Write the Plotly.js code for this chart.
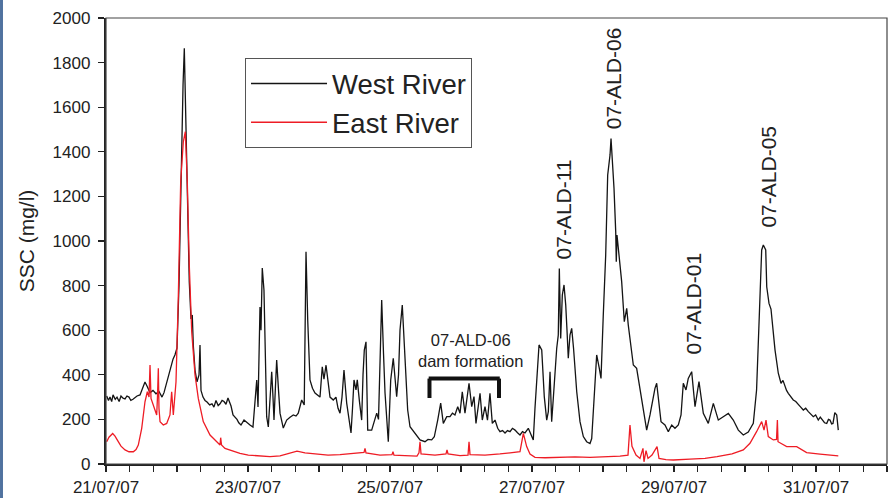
<!DOCTYPE html>
<html><head><meta charset="utf-8">
<script src="https://cdn.plot.ly/plotly-3.0.1.min.js"></script>
<style>html,body{margin:0;padding:0;background:#fff;} #chart{width:890px;height:498px;}</style>
</head><body><div id="chart"></div>
<script>
// Time in days since 21/07/07 00:00
const startDate = Date.UTC(2007, 6, 21);
const dayMs = 86400000;

const westDays = [0.010,0.035,0.056,0.080,0.099,0.130,0.155,0.185,0.211,0.240,0.268,0.295,0.324,0.350,0.380,0.410,0.437,0.479,0.521,0.549,0.577,0.620,0.662,0.704,0.746,0.789,0.817,0.855,0.901,0.944,0.972,1.000,1.028,1.056,1.085,1.103,1.127,1.155,1.173,1.197,1.215,1.230,1.254,1.282,1.310,1.324,1.338,1.366,1.395,1.423,1.460,1.493,1.520,1.549,1.580,1.606,1.635,1.662,1.690,1.718,1.761,1.789,1.845,1.870,1.901,1.944,1.986,2.028,2.070,2.099,2.123,2.141,2.155,2.169,2.183,2.201,2.225,2.239,2.263,2.286,2.310,2.334,2.352,2.366,2.387,2.404,2.430,2.451,2.497,2.545,2.592,2.638,2.676,2.708,2.756,2.792,2.817,2.841,2.873,2.908,2.944,2.986,3.014,3.046,3.070,3.099,3.127,3.155,3.201,3.239,3.268,3.296,3.324,3.352,3.390,3.423,3.451,3.472,3.493,3.521,3.539,3.570,3.601,3.620,3.638,3.662,3.676,3.686,3.742,3.775,3.813,3.838,3.859,3.883,3.908,3.930,3.976,4.010,4.046,4.070,4.094,4.120,4.141,4.173,4.197,4.211,4.249,4.282,4.352,4.423,4.493,4.535,4.587,4.624,4.672,4.714,4.751,4.799,4.845,4.880,4.915,4.954,4.986,5.018,5.056,5.113,5.151,5.183,5.211,5.268,5.300,5.338,5.373,5.408,5.441,5.479,5.517,5.549,5.585,5.620,5.655,5.690,5.725,5.761,5.796,5.831,5.866,5.901,5.948,5.996,6.018,6.042,6.066,6.099,6.137,6.173,6.207,6.230,6.254,6.277,6.300,6.324,6.348,6.370,6.385,6.404,6.427,6.451,6.475,6.493,6.511,6.535,6.559,6.585,6.630,6.676,6.723,6.770,6.817,6.841,6.863,6.911,6.948,6.972,7.004,7.038,7.066,7.099,7.113,7.137,7.155,7.179,7.187,7.197,7.225,7.263,7.300,7.334,7.356,7.404,7.427,7.474,7.521,7.554,7.592,7.615,7.662,7.694,7.732,7.756,7.789,7.817,7.873,7.920,7.968,8.014,8.061,8.099,8.131,8.169,8.201,8.249,8.296,8.352,8.413,8.483,8.554,8.624,8.694,8.765,8.835,8.906,8.976,9.046,9.117,9.163,9.201,9.235,9.258,9.292,9.306,9.338,9.366,9.399,9.423,9.469,9.507,9.535,9.563,9.585,9.610,9.645,9.680,9.715,9.751,9.785,9.821,9.855,9.892,9.925,9.962,9.995,10.032,10.060,10.092,10.120,10.151,10.175,10.197,10.220,10.239,10.265,10.292,10.314];
const westSSC = [305,285,300,280,310,290,300,280,305,295,292,305,300,285,290,300,305,310,340,368,350,320,330,315,325,300,320,368,420,470,490,520,800,1300,1700,1864,1500,1000,816,650,668,530,420,368,400,534,330,300,285,278,265,270,255,285,262,270,285,280,268,296,260,220,200,185,175,197,184,175,166,300,377,256,550,704,600,879,780,571,212,166,300,414,300,197,350,466,330,228,161,197,210,220,215,228,287,265,952,646,377,340,318,305,300,436,380,443,360,300,287,300,250,228,300,421,273,200,139,250,377,332,377,280,197,400,511,548,350,152,152,190,228,200,450,735,500,318,100,377,474,400,302,400,601,713,560,466,242,167,139,108,100,110,108,122,197,273,182,212,212,228,220,257,228,324,228,362,257,302,182,317,197,257,197,317,182,197,160,145,150,139,150,145,160,152,140,130,145,139,160,122,108,250,392,534,511,302,197,235,414,190,294,429,519,578,877,563,758,803,713,600,474,578,608,519,324,190,123,100,92,114,250,489,429,384,668,937,1296,1386,1460,1341,1236,1042,907,1027,937,818,638,698,623,489,444,429,339,279,190,152,220,279,339,362,279,190,175,145,175,160,175,220,362,332,384,414,257,369,227,182,272,197,212,227,197,152,130,143,182,332,661,960,982,960,795,720,695,578,511,407,362,375,347,330,317,300,287,280,265,255,242,250,235,225,212,220,197,210,197,185,182,200,197,180,182,230,220,152];

const eastDays = [0.010,0.042,0.094,0.127,0.173,0.211,0.268,0.324,0.385,0.423,0.455,0.479,0.503,0.549,0.582,0.606,0.620,0.634,0.676,0.714,0.725,0.737,0.746,0.761,0.807,0.855,0.901,0.925,0.948,0.986,1.018,1.052,1.089,1.117,1.145,1.173,1.207,1.254,1.300,1.370,1.465,1.582,1.606,1.615,1.627,1.676,1.746,1.887,2.004,2.169,2.310,2.451,2.634,2.690,2.803,2.944,3.127,3.296,3.437,3.577,3.634,3.648,3.662,3.859,4.028,4.042,4.056,4.211,4.380,4.408,4.423,4.437,4.634,4.789,4.803,4.817,4.986,5.099,5.113,5.127,5.338,5.549,5.690,5.831,5.878,5.925,5.972,6.042,6.183,6.394,6.606,6.817,7.028,7.239,7.352,7.380,7.408,7.465,7.521,7.563,7.577,7.606,7.634,7.690,7.761,7.789,7.887,7.990,8.225,8.437,8.606,8.817,8.976,9.070,9.163,9.235,9.268,9.296,9.328,9.399,9.444,9.456,9.465,9.587,9.728,9.868,10.056,10.314];
const eastSSC = [100,120,137,125,100,80,63,55,55,65,85,120,160,279,324,300,444,294,250,220,300,429,250,190,175,182,220,324,220,369,743,1266,1445,1490,1266,892,593,399,294,190,130,93,85,118,85,70,63,48,40,36,33,36,55,58,50,45,40,42,45,50,52,70,50,40,42,55,40,38,35,50,100,45,40,45,63,45,38,40,100,42,40,45,50,55,137,78,45,30,28,30,32,30,32,35,40,175,79,40,25,70,10,60,25,40,78,25,20,18,22,25,33,45,63,93,145,190,152,197,123,108,110,197,100,78,78,51,44,36];

const seriesNames = ['West River', 'East River'];
const tickFormat = '%d/%m/%y';

const toTime = d => startDate + d * dayMs;

const font = 'Liberation Sans, Arial, Helvetica, sans-serif';

const traces = [
  {x: westDays.map(toTime), y: westSSC, name: seriesNames[0], type: 'scatter', mode: 'lines',
   line: {color: '#141414', width: 1.3}},
  {x: eastDays.map(toTime), y: eastSSC, name: seriesNames[1], type: 'scatter', mode: 'lines',
   line: {color: '#ee1c25', width: 1.3}}
];

const t = d => toTime(d);

const layout = {
  width: 890, height: 498,
  margin: {l: 106, r: 3, t: 18, b: 34},
  paper_bgcolor: '#fff', plot_bgcolor: '#fff',
  font: {family: font, color: '#222'},
  showlegend: true,
  legend: {x: 0.178, y: 0.91, xanchor: 'left', yanchor: 'top',
           bordercolor: '#555', borderwidth: 1, bgcolor: '#fff',
           font: {size: 27.5, family: font, color: '#222'}, itemwidth: 76},
  xaxis: {
    type: 'date', range: ['2007-07-21', '2007-08-01'],
    tick0: '2007-07-21', dtick: 2 * dayMs, tickformat: tickFormat,
    ticks: 'outside', ticklen: 6, tickwidth: 1.3, tickcolor: '#222',
    showgrid: false, zeroline: false,
    showline: true, linewidth: 2.2, linecolor: '#222',
    tickfont: {size: 17, family: font, color: '#222'},
    minor: {dtick: dayMs / 3, ticks: 'outside', ticklen: 6, tickwidth: 1.3, tickcolor: '#222', showgrid: false}
  },
  yaxis: {
    range: [0, 2000], dtick: 200,
    ticks: 'outside', ticklen: 6, tickwidth: 1.3, tickcolor: '#222',
    showgrid: false, zeroline: false,
    showline: true, linewidth: 2.2, linecolor: '#222',
    tickfont: {size: 17, family: font, color: '#222'},
    ticklabelstandoff: 4,
    title: {text: 'SSC (mg/l)', font: {size: 21, family: font, color: '#222'}, standoff: 12}
  },
  shapes: [
    {type: 'rect', xref: 'paper', yref: 'paper', x0: 0, x1: 1, y0: 0, y1: 1,
     line: {color: '#444', width: 1.2}},
    {type: 'rect', xref: 'paper', yref: 'paper', x0: -0.1357, x1: -0.1319, y0: -0.08, y1: 1.05,
     line: {width: 0}, fillcolor: '#50729f'},
    {type: 'line', x0: t(4.556), x1: t(4.556), y0: 296, y1: 383, line: {color: '#111', width: 4}},
    {type: 'line', x0: t(4.545), x1: t(5.546), y0: 383, y1: 383, line: {color: '#111', width: 4}},
    {type: 'line', x0: t(5.535), x1: t(5.535), y0: 296, y1: 383, line: {color: '#111', width: 4}}
  ],
  annotations: [
    {x: t(6.444), y: 906, text: '07-ALD-11', textangle: -90, showarrow: false, xanchor: 'center', yanchor: 'bottom', font: {size: 21, family: font, color: '#222'}},
    {x: t(7.148), y: 1490, text: '07-ALD-06', textangle: -90, showarrow: false, xanchor: 'center', yanchor: 'bottom', font: {size: 21, family: font, color: '#222'}},
    {x: t(8.275), y: 480, text: '07-ALD-01', textangle: -90, showarrow: false, xanchor: 'center', yanchor: 'bottom', font: {size: 21, family: font, color: '#222'}},
    {x: t(9.331), y: 1049, text: '07-ALD-05', textangle: -90, showarrow: false, xanchor: 'center', yanchor: 'bottom', font: {size: 21, family: font, color: '#222'}},
    {x: t(5.127), y: 511, text: '07-ALD-06<br>dam formation', showarrow: false, xanchor: 'center', yanchor: 'middle', font: {size: 16.5, family: font, color: '#222'}}
  ]
};

Plotly.newPlot('chart', traces, layout, {staticPlot: true, displayModeBar: false});
</script>
</body></html>
